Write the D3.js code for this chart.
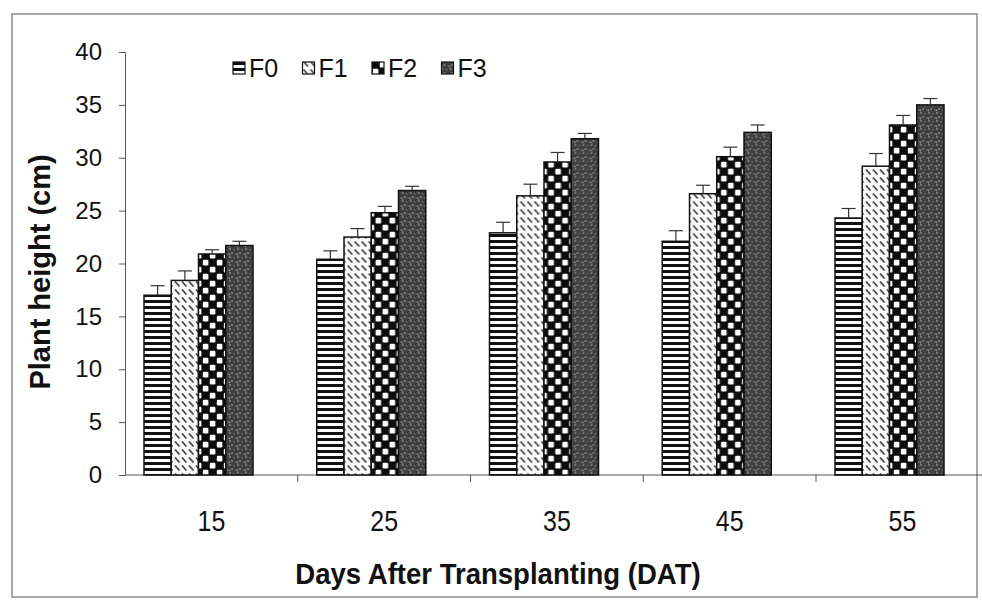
<!DOCTYPE html>
<html>
<head>
<meta charset="utf-8">
<script src="https://cdn.jsdelivr.net/npm/d3@7"></script>
<style>
  html, body { margin: 0; padding: 0; background: #fff; }
  svg { display: block; }
  text { font-family: "Liberation Sans", Arial, sans-serif; fill: #111; }
</style>
</head>
<body>
<svg id="chart" width="982" height="600"></svg>
<script>
// Plant height (cm) by fertiliser treatment at each sampling date
const days = ["15", "25", "35", "45", "55"];
const series = ["F0", "F1", "F2", "F3"];
const F0 = [17.0, 20.4, 22.9, 22.1, 24.3];
const F1 = [18.4, 22.5, 26.4, 26.6, 29.2];
const F2 = [20.9, 24.8, 29.6, 30.1, 33.1];
const F3 = [21.7, 26.9, 31.8, 32.4, 35.0];
// standard errors (upper bars)
const F0err = [0.9, 0.8, 1.0, 1.0, 0.9];
const F1err = [0.9, 0.8, 1.1, 0.8, 1.2];
const F2err = [0.4, 0.6, 0.9, 0.9, 0.9];
const F3err = [0.4, 0.4, 0.5, 0.7, 0.6];
const yTicks = [0, 5, 10, 15, 20, 25, 30, 35, 40];

const values = { F0, F1, F2, F3 };
const errors = { F0: F0err, F1: F1err, F2: F2err, F3: F3err };

const svg = d3.select("#chart");

// Fill patterns for the four treatments
const defs = svg.append("defs");

const pH = defs.append("pattern").attr("id", "pat-F0")
  .attr("patternUnits", "userSpaceOnUse").attr("width", 6).attr("height", 6);
pH.append("rect").attr("width", 6).attr("height", 6).attr("fill", "#fff");
pH.append("rect").attr("y", 0).attr("width", 6).attr("height", 3).attr("fill", "#111");

const pD = defs.append("pattern").attr("id", "pat-F1")
  .attr("patternUnits", "userSpaceOnUse").attr("width", 7).attr("height", 8);
pD.append("rect").attr("width", 7).attr("height", 8).attr("fill", "#fafafa");
pD.append("path").attr("d", "M1,1.5 L5.5,6.5").attr("stroke", "#444").attr("stroke-width", 1.8);

const pC = defs.append("pattern").attr("id", "pat-F2")
  .attr("patternUnits", "userSpaceOnUse").attr("width", 14).attr("height", 14);
pC.append("rect").attr("width", 14).attr("height", 14).attr("fill", "#0c0c0c");
pC.append("rect").attr("x", 0.8).attr("y", 0.8).attr("width", 5.6).attr("height", 5.6).attr("rx", 1.2).attr("fill", "#fff");
pC.append("rect").attr("x", 7.8).attr("y", 7.8).attr("width", 5.6).attr("height", 5.6).attr("rx", 1.2).attr("fill", "#fff");

const pS = defs.append("pattern").attr("id", "pat-F3")
  .attr("patternUnits", "userSpaceOnUse").attr("width", 8).attr("height", 8);
pS.append("rect").attr("width", 8).attr("height", 8).attr("fill", "#3e3e3e");
[[1, 1], [5, 2], [3, 5], [7, 6], [0.5, 6.5]].forEach(([cx, cy], i) =>
  pS.append("circle").attr("cx", cx).attr("cy", cy).attr("r", i % 2 ? 0.7 : 0.9).attr("fill", "#909090"));

// Outer frame
svg.append("rect").attr("x", 12).attr("y", 14).attr("width", 965).attr("height", 583)
  .attr("fill", "none").attr("stroke", "#8a8a8a").attr("stroke-width", 1.5);

// Scales
const x0 = d3.scaleBand().domain(days).range([125, 125 + 5 * 172.75]);
const x1 = d3.scaleBand().domain(series).range([19, 128]);
const y = d3.scaleLinear().domain([0, 40]).range([475, 52]);

// Y axis
const yAxis = svg.append("g").attr("transform", "translate(125,0)")
  .call(d3.axisLeft(y).tickValues(yTicks).tickSizeInner(6).tickSizeOuter(0).tickPadding(17));
yAxis.select(".domain").attr("stroke", "#555");
yAxis.selectAll(".tick line").attr("stroke", "#555");
yAxis.selectAll(".tick text").style("font-size", "24px").attr("fill", "#111");

// X axis: baseline with ticks at category boundaries, labels centred
const xg = svg.append("g");
xg.append("line").attr("x1", 125).attr("x2", 982).attr("y1", y(0)).attr("y2", y(0))
  .attr("stroke", "#555").attr("stroke-width", 1);
xg.selectAll("line.bound").data(days.slice(1)).join("line").attr("class", "bound")
  .attr("x1", d => x0(d)).attr("x2", d => x0(d))
  .attr("y1", y(0)).attr("y2", y(0) + 7).attr("stroke", "#555");
xg.selectAll("text").data(days).join("text")
  .attr("transform", d => `translate(${x0(d) + x0.bandwidth() / 2},531) scale(0.86,1)`)
  .attr("text-anchor", "middle")
  .style("font-size", "29px")
  .text(d => d);

// Bars
const groups = svg.append("g").selectAll("g").data(days).join("g")
  .attr("transform", d => `translate(${x0(d)},0)`);

groups.selectAll("rect").data((d, i) => series.map(s => ({ s, v: values[s][i], e: errors[s][i] })))
  .join("rect")
  .attr("x", d => x1(d.s))
  .attr("width", x1.bandwidth())
  .attr("y", d => y(d.v))
  .attr("height", d => y(0) - y(d.v))
  .attr("fill", d => `url(#pat-${d.s})`)
  .attr("stroke", "#111")
  .attr("stroke-width", 1.5);

// Error bars (upper)
const eb = groups.selectAll("g.err").data((d, i) => series.map(s => ({ s, v: values[s][i], e: errors[s][i] })))
  .join("g").attr("class", "err");
eb.append("line")
  .attr("x1", d => x1(d.s) + x1.bandwidth() / 2).attr("x2", d => x1(d.s) + x1.bandwidth() / 2)
  .attr("y1", d => y(d.v)).attr("y2", d => y(d.v + d.e))
  .attr("stroke", "#333").attr("stroke-width", 1.2);
eb.append("line")
  .attr("x1", d => x1(d.s) + x1.bandwidth() / 2 - 7).attr("x2", d => x1(d.s) + x1.bandwidth() / 2 + 7)
  .attr("y1", d => y(d.v + d.e)).attr("y2", d => y(d.v + d.e))
  .attr("stroke", "#333").attr("stroke-width", 1.2);

// Legend
const leg = svg.append("g").attr("transform", "translate(233,68)");
const li = leg.selectAll("g").data(series).join("g")
  .attr("transform", (d, i) => `translate(${i * 69.5},0)`);
li.append("rect").attr("x", 0).attr("y", -6).attr("width", 12).attr("height", 12)
  .attr("fill", d => `url(#pat-${d})`).attr("stroke", "#111").attr("stroke-width", 1.2);
li.append("text").attr("x", 16).attr("y", 9).style("font-size", "25px").text(d => d);

// Axis titles
svg.append("text")
  .attr("transform", `translate(50,272) rotate(-90)`)
  .attr("text-anchor", "middle")
  .style("font-size", "29px").style("font-weight", "bold")
  .text("Plant height (cm)");

svg.append("text")
  .attr("transform", "translate(498,584) scale(0.95,1)")
  .attr("text-anchor", "middle")
  .style("font-size", "29px").style("font-weight", "bold")
  .text("Days After Transplanting (DAT)");
</script>
</body>
</html>
